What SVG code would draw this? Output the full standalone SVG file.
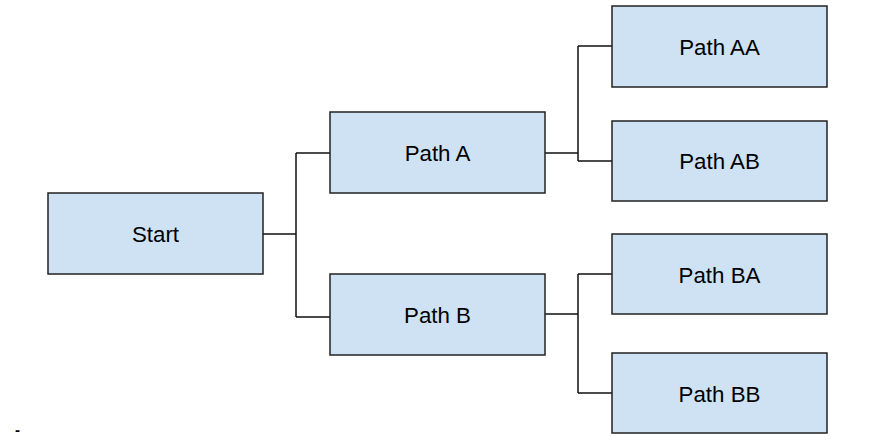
<svg xmlns="http://www.w3.org/2000/svg" width="881" height="439" viewBox="0 0 881 439">
<style>
.box{fill:#cfe2f3;stroke:#222;stroke-width:1.5}
.lbl{font-family:"Liberation Sans",Arial,sans-serif;font-size:22.3px;fill:#000;text-anchor:middle}
.conn{fill:none;stroke:#111;stroke-width:1.5}
</style>
<rect width="881" height="439" fill="#fff"/>
<g id="connectors">
<path class="conn" d="M263,234H296M296,153V317M296,153H330M296,317H330"/>
<path class="conn" d="M545,153H578M578,46V161M578,46H612M578,161H612"/>
<path class="conn" d="M545,314H578M578,274V393M578,274H612M578,393H612"/>
</g>
<g id="start"><rect class="box" x="48" y="193" width="215" height="81"/><text class="lbl" x="155.5" y="242">Start</text></g>
<g id="pathA"><rect class="box" x="330" y="112" width="215" height="81"/><text class="lbl" x="437.5" y="161">Path A</text></g>
<g id="pathB"><rect class="box" x="330" y="274" width="215" height="81"/><text class="lbl" x="437.5" y="323">Path B</text></g>
<g id="pathAA"><rect class="box" x="612" y="6" width="215" height="81"/><text class="lbl" x="719.5" y="55">Path AA</text></g>
<g id="pathAB"><rect class="box" x="612" y="121" width="215" height="80"/><text class="lbl" x="719.5" y="169">Path AB</text></g>
<g id="pathBA"><rect class="box" x="612" y="234" width="215" height="80"/><text class="lbl" x="719.5" y="283">Path BA</text></g>
<g id="pathBB"><rect class="box" x="612" y="353" width="215" height="80"/><text class="lbl" x="719.5" y="402">Path BB</text></g>
<text x="15" y="435" style="font-family:'Liberation Sans',Arial,sans-serif;font-size:15px;font-weight:bold;fill:#000">-</text>
</svg>
